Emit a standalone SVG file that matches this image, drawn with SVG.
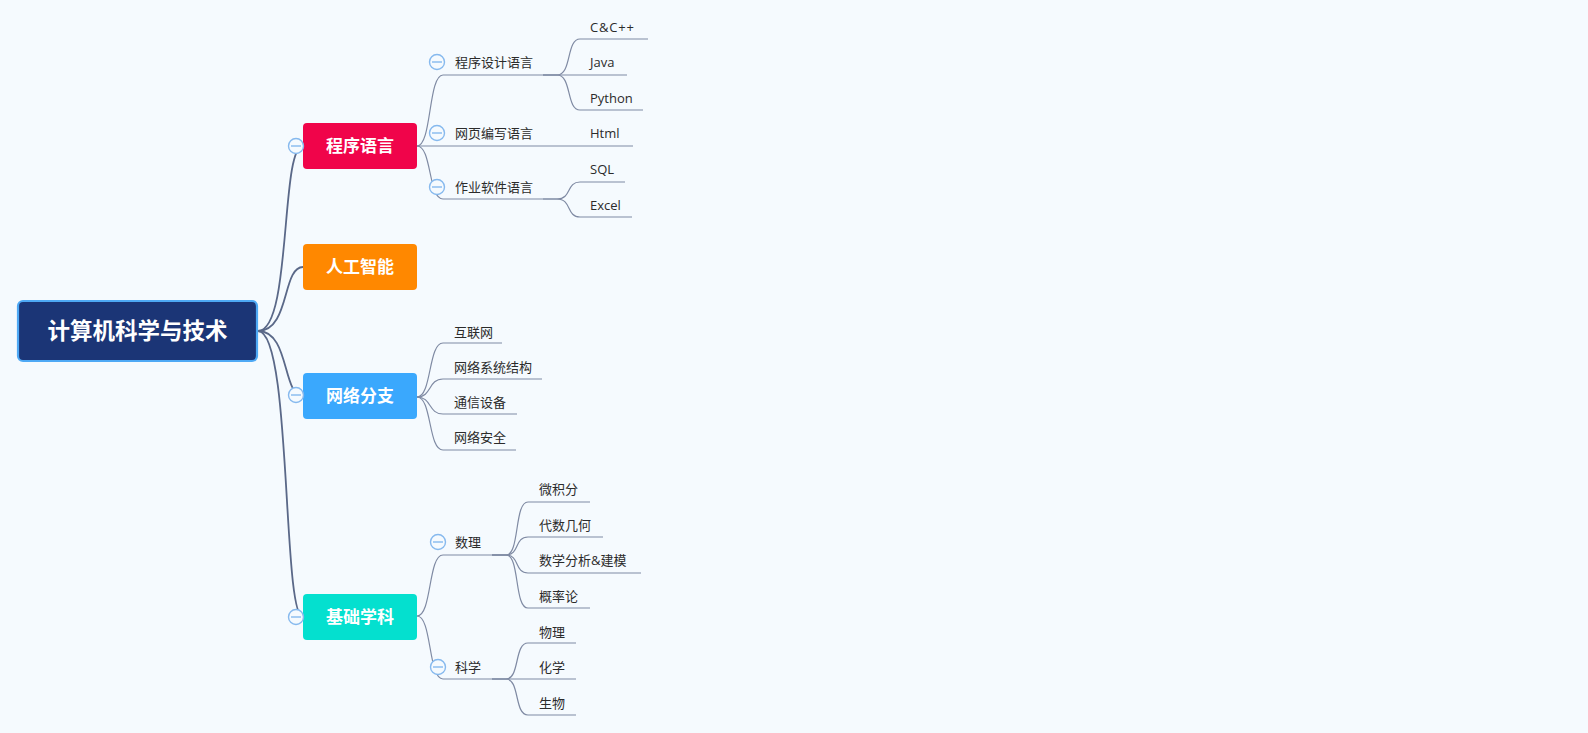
<svg xmlns="http://www.w3.org/2000/svg" width="1588" height="733" viewBox="0 0 1588 733">
<style>
.bg{fill:#F5FAFE}
.c1{fill:none;stroke:#5A6888;stroke-width:1.8}
.c2{fill:none;stroke:#7F8AA3;stroke-width:1.2}
.t1{font-family:"Noto Sans CJK SC","Noto Sans",sans-serif;font-weight:bold;font-size:17px;fill:#fff;text-anchor:middle}
.t0{font-family:"Noto Sans CJK SC","Noto Sans",sans-serif;font-weight:bold;font-size:22.5px;fill:#fff;text-anchor:middle}
.t2{font-family:"Open Sans","Noto Sans CJK SC",sans-serif;font-size:13px;fill:#2b2b2b}
.col circle{fill:#F5FAFE;stroke:#86B9EE;stroke-width:1.4}
.col line{stroke:#86B9EE;stroke-width:1.4}
</style>
<rect class="bg" x="0" y="0" width="1588" height="733"/>
<g id="connectors">
<path class="c1" d="M258,331 C292,331 280,146 303,146"/>
<path class="c1" d="M258,331 C290,331 282,267 303,267"/>
<path class="c1" d="M258,331 C290,331 282,396 303,396"/>
<path class="c1" d="M258,331 C292,331 282,617 303,617"/>
<path class="c2" d="M417,146 C432,146 428,75 443,75 H543"/>
<path class="c2" d="M417,146 H633"/>
<path class="c2" d="M417,146 C432,146 428,199 443,199 H543"/>
<path class="c2" d="M543,75 H557 C572,75 566,39 580,39 H648"/>
<path class="c2" d="M543,75 H627"/>
<path class="c2" d="M543,75 H557 C572,75 566,110 580,110 H643"/>
<path class="c2" d="M543,199 H557 C572,199 566,182 580,182 H625"/>
<path class="c2" d="M543,199 H557 C572,199 566,217 580,217 H632"/>
<path class="c2" d="M417,397 C432,397 428,343 443,343 H502"/>
<path class="c2" d="M417,397 C432,397 428,379 443,379 H542"/>
<path class="c2" d="M417,397 C432,397 428,414 443,414 H517"/>
<path class="c2" d="M417,397 C432,397 428,450 443,450 H516"/>
<path class="c2" d="M417,616 C432,616 428,555 443,555 H492"/>
<path class="c2" d="M417,616 C432,616 428,679 443,679 H492"/>
<path class="c2" d="M492,555 H506 C520,555 514,502 528,502 H590"/>
<path class="c2" d="M492,555 H506 C520,555 514,537 528,537 H603"/>
<path class="c2" d="M492,555 H506 C520,555 514,573 528,573 H641"/>
<path class="c2" d="M492,555 H506 C520,555 514,608 528,608 H590"/>
<path class="c2" d="M492,679 H506 C520,679 514,643 528,643 H576"/>
<path class="c2" d="M492,679 H576"/>
<path class="c2" d="M492,679 H506 C520,679 514,715 528,715 H576"/>
</g>
<g id="root">
<rect x="18" y="301" width="239" height="60" rx="5" fill="#1B3576" stroke="#4EA9F5" stroke-width="2.2"/>
<text class="t0" x="137.5" y="339">计算机科学与技术</text>
</g>
<g id="n-chengxu">
<rect x="303" y="123" width="114" height="46" rx="4" fill="#F0044A"/>
<text class="t1" x="360" y="152">程序语言</text>
<g class="col"><circle cx="296" cy="146" r="7.5"/><line x1="291" y1="146" x2="301" y2="146"/></g>
</g>
<g id="n-ai">
<rect x="303" y="244" width="114" height="46" rx="4" fill="#FF8800"/>
<text class="t1" x="360" y="273">人工智能</text>
</g>
<g id="n-net">
<rect x="303" y="373" width="114" height="46" rx="4" fill="#3AA8FD"/>
<text class="t1" x="360" y="402">网络分支</text>
<g class="col"><circle cx="296" cy="395" r="7.5"/><line x1="291" y1="395" x2="301" y2="395"/></g>
</g>
<g id="n-basic">
<rect x="303" y="594" width="114" height="46" rx="4" fill="#04E0CF"/>
<text class="t1" x="360" y="623">基础学科</text>
<g class="col"><circle cx="296" cy="617" r="7.5"/><line x1="291" y1="617" x2="301" y2="617"/></g>
</g>
<g id="n-design">
<text class="t2" x="455" y="67">程序设计语言</text>
<g class="col"><circle cx="437" cy="62" r="7.5"/><line x1="432" y1="62" x2="442" y2="62"/></g>
</g>
<g id="n-web">
<text class="t2" x="455" y="138">网页编写语言</text>
<g class="col"><circle cx="437" cy="133" r="7.5"/><line x1="432" y1="133" x2="442" y2="133"/></g>
</g>
<g id="n-office">
<text class="t2" x="455" y="192">作业软件语言</text>
<g class="col"><circle cx="437" cy="187" r="7.5"/><line x1="432" y1="187" x2="442" y2="187"/></g>
</g>
<g id="n-cpp"><text class="t2" x="590" y="32" letter-spacing="0.8">C&amp;C++</text></g>
<g id="n-java"><text class="t2" x="590" y="67">Java</text></g>
<g id="n-python"><text class="t2" x="590" y="103">Python</text></g>
<g id="n-html"><text class="t2" x="590" y="138">Html</text></g>
<g id="n-sql"><text class="t2" x="590" y="174">SQL</text></g>
<g id="n-excel"><text class="t2" x="590" y="210">Excel</text></g>
<g id="n-internet"><text class="t2" x="454" y="337">互联网</text></g>
<g id="n-arch"><text class="t2" x="454" y="372">网络系统结构</text></g>
<g id="n-comm"><text class="t2" x="454" y="407">通信设备</text></g>
<g id="n-sec"><text class="t2" x="454" y="442">网络安全</text></g>
<g id="n-math">
<text class="t2" x="455" y="547">数理</text>
<g class="col"><circle cx="438" cy="542" r="7.5"/><line x1="433" y1="542" x2="443" y2="542"/></g>
</g>
<g id="n-sci">
<text class="t2" x="455" y="672">科学</text>
<g class="col"><circle cx="438" cy="667" r="7.5"/><line x1="433" y1="667" x2="443" y2="667"/></g>
</g>
<g id="n-calc"><text class="t2" x="539" y="494">微积分</text></g>
<g id="n-alg"><text class="t2" x="539" y="530">代数几何</text></g>
<g id="n-model"><text class="t2" x="539" y="565">数学分析&amp;建模</text></g>
<g id="n-prob"><text class="t2" x="539" y="601">概率论</text></g>
<g id="n-phys"><text class="t2" x="539" y="637">物理</text></g>
<g id="n-chem"><text class="t2" x="539" y="672">化学</text></g>
<g id="n-bio"><text class="t2" x="539" y="708">生物</text></g>
</svg>
